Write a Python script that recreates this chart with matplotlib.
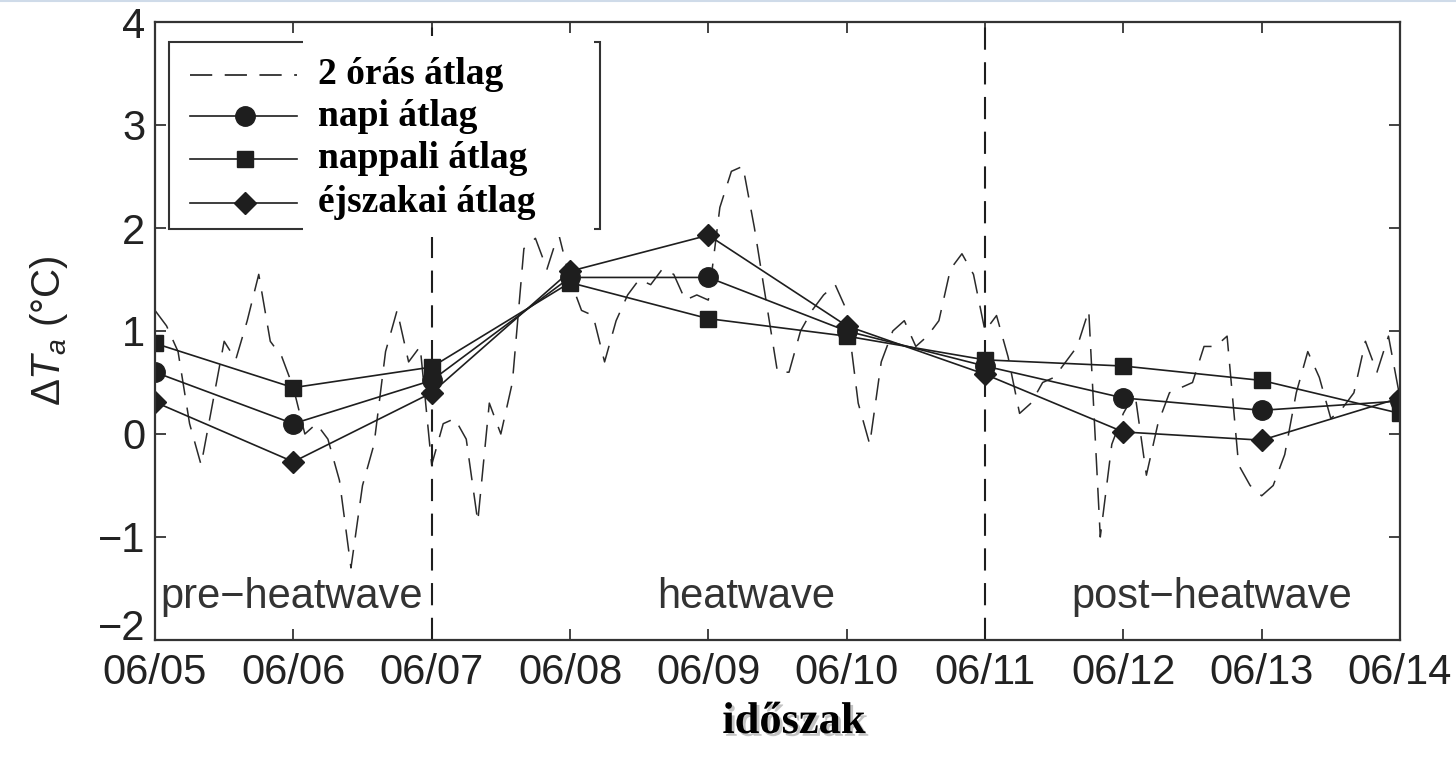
import numpy as np
import matplotlib
matplotlib.use('Agg')
import matplotlib.pyplot as plt
from matplotlib.lines import Line2D
from matplotlib.patches import Rectangle
import matplotlib.patheffects as pe

# Data
days = ['06/05', '06/06', '06/07', '06/08', '06/09',
        '06/10', '06/11', '06/12', '06/13', '06/14']
# 2-hourly values, 12 per day
two_hour = [1.2, 1.05, 0.8, 0.1, -0.3, 0.3, 0.9, 0.72, 1.1, 1.55, 0.9, 0.75,
            0.45, 0.0, 0.1, -0.05, -0.45, -1.3, -0.5, -0.1, 0.8, 1.2, 0.7, 0.85,
            -0.3, 0.1, 0.15, -0.05, -0.85, 0.3, 0.0, 0.5, 1.8, 1.9, 1.6, 1.95,
            1.5, 1.2, 1.15, 0.7, 1.1, 1.35, 1.5, 1.45, 1.6, 1.55, 1.3, 1.35,
            1.3, 2.2, 2.55, 2.6, 2.0, 1.3, 0.6, 0.6, 1.0, 1.2, 1.35, 1.45,
            1.2, 0.3, -0.1, 0.7, 1.0, 1.1, 0.85, 0.95, 1.1, 1.6, 1.75, 1.55,
            1.0, 1.15, 0.75, 0.2, 0.3, 0.5, 0.55, 0.7, 0.85, 1.2, -1.0, -0.1,
            0.2, 0.4, -0.4, 0.1, 0.4, 0.45, 0.5, 0.85, 0.85, 0.95, -0.3, -0.5,
            -0.6, -0.5, -0.2, 0.4, 0.8, 0.55, 0.15, 0.25, 0.4, 0.9, 0.6, 0.95, 0.35]
daily = [0.6, 0.1, 0.52, 1.52, 1.52, 1.0, 0.66, 0.35, 0.23, 0.32]
daytime = [0.88, 0.45, 0.65, 1.47, 1.12, 0.95, 0.72, 0.66, 0.52, 0.2]
nighttime = [0.31, -0.27, 0.4, 1.58, 1.93, 1.05, 0.58, 0.02, -0.06, 0.35]
period_bounds = [2, 6]
y_ticks = [-2, -1, 0, 1, 2, 3, 4]
legend_labels = ['2 órás átlag', 'napi átlag', 'nappali átlag', 'éjszakai átlag']
period_labels = ['pre\u2212heatwave', 'heatwave', 'post\u2212heatwave']

plt.rcParams['font.family'] = ['Liberation Sans', 'DejaVu Sans']
plt.rcParams['mathtext.fontset'] = 'custom'
plt.rcParams['mathtext.rm'] = 'Liberation Sans'
plt.rcParams['mathtext.it'] = 'Liberation Sans:italic'
plt.rcParams['lines.scale_dashes'] = False

W, H = 1456, 763
ink = '#1e1e1e'
dash = (16, 9)


def fx(px):
    return px / W


def fy(py):
    return 1 - py / H


fig = plt.figure(figsize=(W / 100, H / 100), dpi=100)
ax = fig.add_axes([fx(155), fy(640), fx(1400 - 155), (640 - 22) / H])

t = np.arange(len(two_hour)) / 12.0
xd = np.arange(len(days))

ax.plot(t, two_hour, color='#2a2a2a', lw=1.1, dashes=dash)
for b in period_bounds:
    ax.axvline(b, color=ink, lw=1.5, dashes=dash)
ax.plot(xd, daytime, '-s', color=ink, lw=1.2, ms=12)
ax.plot(xd, daily, '-o', color=ink, lw=1.2, ms=14)
ax.plot(xd, nighttime, '-D', color=ink, lw=1.2, ms=11)

ax.set_xlim(0, 9)
ax.set_ylim(-2, 4)
ax.set_xticks(xd)
ax.set_xticklabels(days)
ax.set_yticks(y_ticks)
ax.tick_params(direction='in', length=8, width=1.2, top=True, right=True,
               labelsize=30, colors='#222', pad=7)
ax.tick_params(axis='x', pad=9)
ax.get_yticklabels()[0].set_va('baseline')
for s in ax.spines.values():
    s.set_linewidth(1.6)
    s.set_color('#333')

ax.set_ylabel(r'$\Delta T_a$ (°C)', fontsize=29, color='#222', labelpad=20)

ax.text(0.04, -1.58, period_labels[0], fontsize=30, color='#333', ha='left', va='center')
ax.text(4.27, -1.58, period_labels[1], fontsize=30, color='#333', ha='center', va='center')
ax.text(7.64, -1.58, period_labels[2], fontsize=30, color='#333', ha='center', va='center')

fig.text(fx(794), fy(722), 'időszak', family=['Liberation Serif', 'DejaVu Serif'],
         fontweight='bold', fontsize=32, ha='center', va='center',
         path_effects=[pe.withSimplePatchShadow(offset=(2, -2), shadow_rgbFace='#888', alpha=0.5)])

# legend box (partly covered by the pasted labels, as in the source)
fig.add_artist(Rectangle((fx(169), fy(229)), fx(600 - 169), (229 - 42) / H,
                         transform=fig.transFigure, facecolor='white',
                         edgecolor='#333', lw=1.5, zorder=5))
fig.add_artist(Rectangle((fx(303), fy(237)), fx(594 - 303), (237 - 36) / H,
                         transform=fig.transFigure, facecolor='white',
                         edgecolor='none', zorder=6))
rows = [75, 116, 159, 203]
styles = [dict(marker=None, dashes=dash, lw=1.2),
          dict(marker='o', ms=14, lw=1.2),
          dict(marker='s', ms=11, lw=1.2),
          dict(marker='D', ms=11, lw=1.2)]
for r, st, lab in zip(rows, styles, legend_labels):
    seg = Line2D([fx(190), fx(297)], [fy(r), fy(r)], transform=fig.transFigure,
                 color=ink, markevery=[], zorder=7, **st)
    fig.add_artist(seg)
    if st['marker']:
        fig.add_artist(Line2D([fx(245)], [fy(r)], transform=fig.transFigure,
                              color=ink, ls='none', marker=st['marker'], ms=st['ms'], zorder=8))
    fig.text(fx(318), fy(r), lab, family=['Liberation Serif', 'DejaVu Serif'],
             fontweight='bold', fontsize=27, ha='left', va='center', zorder=9)

fig.add_artist(Line2D([0, 1], [fy(1), fy(1)], transform=fig.transFigure,
                      color='#cfdbe9', lw=1.5))

fig.savefig('out.png', dpi=100)
